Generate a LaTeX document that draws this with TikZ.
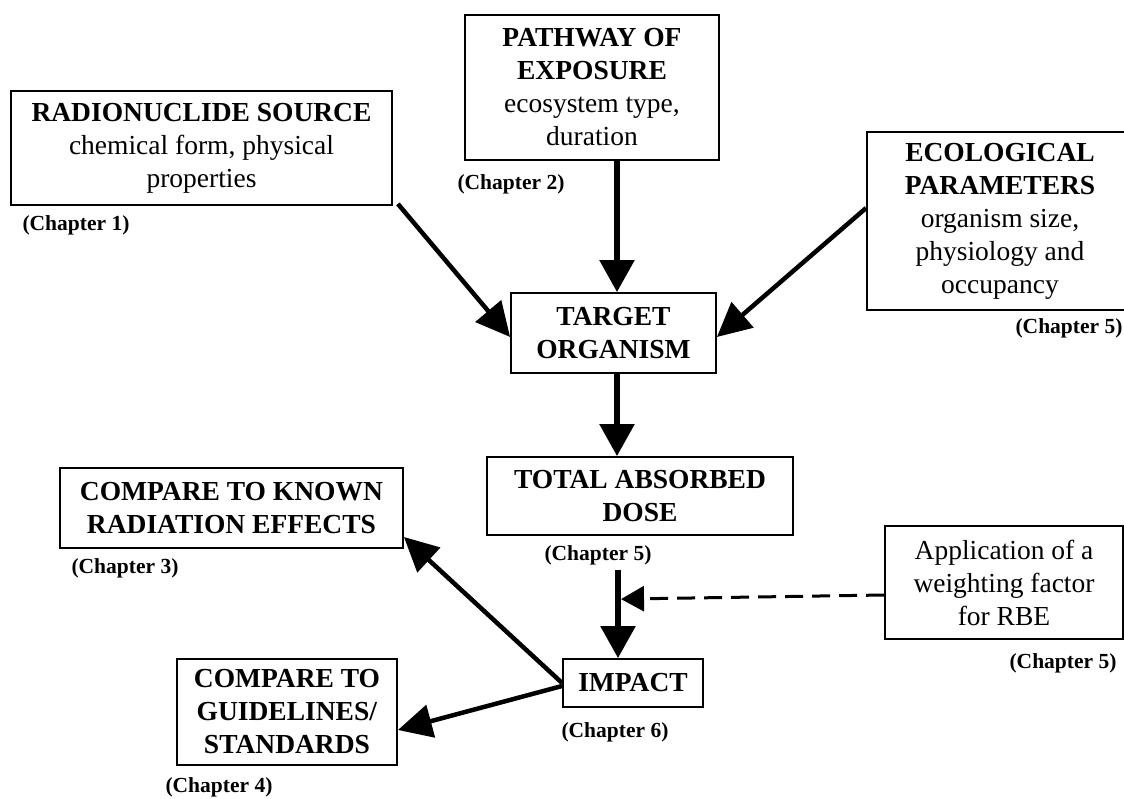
\documentclass[tikz,border=0pt]{standalone}
\usepackage{fontspec}
\setmainfont{Liberation Serif}
\usetikzlibrary{arrows.meta}
\begin{document}
\begin{tikzpicture}[x=1pt,y=-1pt,
  box/.style={draw,line width=1.8pt,align=center,inner sep=0pt,font=\fontsize{27.5}{33}\selectfont},
  chap/.style={font=\bfseries\fontsize{21.5}{24}\selectfont,inner sep=0pt},
  arr/.style={line width=5.5pt,-{Triangle[length=32pt,width=34pt]}},
  darr/.style={line width=4.5pt,-{Triangle[length=34pt,width=33pt]}},
  dsh/.style={line width=3pt,dash pattern=on 18pt off 9pt,-{Triangle[length=23pt,width=25pt]}}]
\useasboundingbox (0,0) rectangle (1124,799);
\node[box,minimum width=381pt,minimum height=114pt] (src) at (201.5,148) {\textbf{RADIONUCLIDE SOURCE}\\chemical form, physical\\properties};
\node[box,minimum width=254pt,minimum height=145pt] (path) at (592,87.5) {\textbf{PATHWAY OF}\\\textbf{EXPOSURE}\\ecosystem type,\\duration};
\node[box,minimum width=266pt,minimum height=178pt] (eco) at (1000,221) {\textbf{ECOLOGICAL}\\\textbf{PARAMETERS}\\organism size,\\physiology and\\occupancy};
\node[box,minimum width=205pt,minimum height=80pt] (target) at (613.5,333) {\textbf{TARGET}\\\textbf{ORGANISM}};
\node[box,minimum width=306pt,minimum height=78pt] (total) at (640,496) {\textbf{TOTAL ABSORBED}\\\textbf{DOSE}};
\node[box,minimum width=343pt,minimum height=80pt] (known) at (231.5,508) {\textbf{COMPARE TO KNOWN}\\\textbf{RADIATION EFFECTS}};
\node[box,minimum width=140pt,minimum height=48pt] (impact) at (633,683) {\textbf{IMPACT}};
\node[box,minimum width=220pt,minimum height=106pt] (guide) at (287,712) {\textbf{COMPARE TO}\\\textbf{GUIDELINES/}\\\textbf{STANDARDS}};
\node[box,minimum width=238pt,minimum height=113pt] (weight) at (1004,582.5) {Application of a\\weighting factor\\for RBE};

\node[chap] (ch1) at (76,225) {(Chapter 1)};
\node[chap] (ch2) at (511,184) {(Chapter 2)};
\node[chap] (ch5a) at (1069,328) {(Chapter 5)};
\node[chap] (ch5b) at (598,555) {(Chapter 5)};
\node[chap] (ch3) at (125,568) {(Chapter 3)};
\node[chap] (ch6) at (615,732) {(Chapter 6)};
\node[chap] (ch4) at (219,787) {(Chapter 4)};
\node[chap] (ch5c) at (1063,663) {(Chapter 5)};

\draw[darr] ([shift={(5pt,2pt)}]src.south east) -- ([yshift=-4pt]target.west);
\draw[arr] ([xshift=25pt]path.south) -- ([xshift=3.5pt]target.north);
\draw[darr] ([yshift=13pt]eco.west) -- ([yshift=-4pt]target.east);
\draw[arr] ([xshift=3.5pt]target.south) -- ([xshift=-23pt]total.north);
\coordinate (ti) at ([xshift=-15pt]impact.north);
\coordinate (tt) at (ti |- ch5b.south);
\draw[arr] ([yshift=-5pt]tt) -- (ti);
\coordinate (dj) at ([shift={(3pt,59pt)}]ti);
\draw[dsh] ([yshift=-12.5pt]weight.west) -- (dj);
\draw[darr] (impact.west) -- ([yshift=-29pt]known.east);
\draw[darr] ([yshift=-3pt]impact.west) -- ([yshift=-18pt]guide.east);
\end{tikzpicture}
\end{document}
